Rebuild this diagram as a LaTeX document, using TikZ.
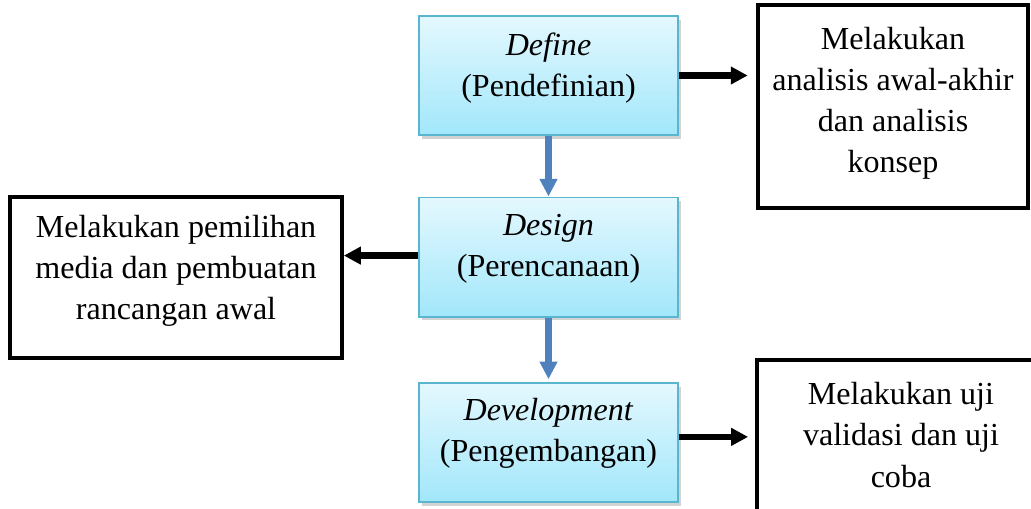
\documentclass[tikz,border=0pt]{standalone}
\usepackage{fontspec}
\setmainfont{Liberation Serif}
\usepackage{tikz}
\usetikzlibrary{arrows.meta,shadows}

\definecolor{boxtop}{HTML}{E4F8FE}
\definecolor{boxbot}{HTML}{A2E7FB}
\definecolor{boxline}{HTML}{5AB6CF}
\definecolor{flowblue}{HTML}{4F81BD}

\begin{document}
\begin{tikzpicture}[x=0.025cm,y=-0.025cm]
        \tikzstyle{every node}+=[font=\fontsize{22.8}{29.2}\selectfont,align=center]
        \tikzstyle{stage}=[draw=boxline,line width=1.4pt,top color=boxtop,bottom color=boxbot,
            minimum width=6.475cm,minimum height=2.975cm,inner sep=0pt,
            drop shadow={shadow xshift=2pt,shadow yshift=-2.5pt,opacity=0.35}]
        \tikzstyle{stagetext}=[inner sep=0pt]
        \tikzstyle{task}=[draw=black,line width=2.6pt,fill=white,inner sep=0pt]
        \tikzstyle{flow}=[flowblue,line width=5pt,-{Triangle[width=12pt,length=12.5pt]}]
        \tikzstyle{outarrow}=[black,line width=4.6pt,-{Triangle[width=12pt,length=12pt]}]
        \useasboundingbox (0,0) rectangle (1031,508);
        \clip (0,0) rectangle (1031,508);
        % stages
        \node [stage] (define) at (548.5,75.5) {};
        \node [stagetext] (definetxt) at (548.5,68) {\textit{Define}\\(Pendefinian)};
        \node [stage] (design) at (548.5,257) {};
        \node [stagetext] (designtxt) at (548.5,249) {\textit{Design}\\(Perencanaan)};
        \node [stage] (develop) at (548.5,442.5) {};
        \node [stagetext] (developtxt) at (548.5,433) {\textit{Development}\\(Pengembangan)};
        % tasks
        \node [task,minimum width=6.75cm,minimum height=5.075cm] (analisis) at (893,106.5) {};
        \node [stagetext] (analisistxt) at (893,103) {Melakukan\\analisis awal-akhir\\dan analisis\\konsep};
        \node [task,minimum width=8.3cm,minimum height=4.025cm] (pemilihan) at (176,277.5) {};
        \node [stagetext] (pemilihantxt) at (176,271) {Melakukan pemilihan\\media dan pembuatan\\rancangan awal};
        \node [task,minimum width=7.2cm,minimum height=4.5cm] (uji) at (901,450) {};
        \node [stagetext] (ujitxt) at (901,435) {Melakukan uji\\validasi dan uji\\coba};
        % arrows
        \draw [flow] (define.south) -- (design.north);
        \draw [flow] (design.south) -- ([yshift=2pt]develop.north);
        \draw [outarrow,shorten >=6pt] ([yshift=0pt]define.east) -- (define.east -| analisis.west);
        \draw [outarrow] ([yshift=1pt]design.west) -- ([yshift=1pt]design.west -| pemilihan.east);
        \draw [outarrow,shorten >=5pt] ([yshift=4pt]develop.east) -- ([yshift=4pt]develop.east -| uji.west);
    \end{tikzpicture}
\end{document}
